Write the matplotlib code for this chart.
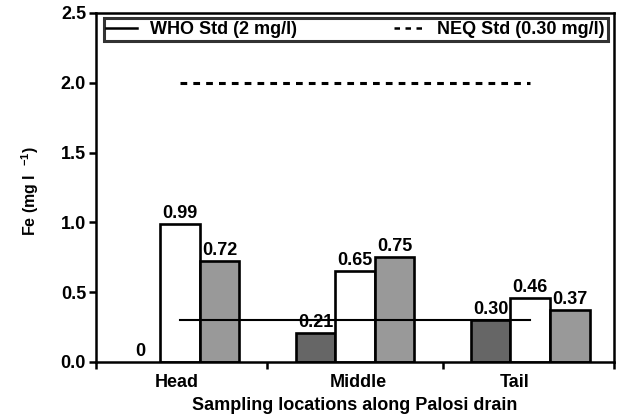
import matplotlib
matplotlib.use('Agg')
import matplotlib.pyplot as plt
from matplotlib.lines import Line2D

plt.rcParams['font.family'] = ['Liberation Sans', 'DejaVu Sans']
plt.rcParams['font.weight'] = 'bold'
plt.rcParams['mathtext.default'] = 'regular'

locations = ['Head', 'Middle', 'Tail']
series_a = [0.0, 0.21, 0.30]
series_b = [0.99, 0.65, 0.46]
series_c = [0.72, 0.75, 0.37]
value_labels_a = ['0', '0.21', '0.30']
value_labels_b = ['0.99', '0.65', '0.46']
value_labels_c = ['0.72', '0.75', '0.37']
solid_std = 0.30
dashed_std = 2.0
legend_labels = ['WHO Std (2 mg/l)', 'NEQ Std (0.30 mg/l)']

FS = 13

fig = plt.figure(figsize=(6.18, 4.17), dpi=100)
ax = fig.add_axes([0.155, 0.132, 0.839, 0.837])

x = list(range(len(locations)))
w = 0.226
bar_kw = dict(width=w, edgecolor='black', zorder=2)
ax.bar([i - w for i in x], series_a, color='#666666',
       linewidth=[1.9 if v > 0 else 0 for v in series_a], **bar_kw)
ax.bar(x, series_b, color='white', linewidth=1.9, **bar_kw)
ax.bar([i + w for i in x], series_c, color='#999999', linewidth=1.9, **bar_kw)

for vals, labs, off in [(series_a, value_labels_a, -w),
                        (series_b, value_labels_b, 0),
                        (series_c, value_labels_c, w)]:
    for i, (v, lab) in enumerate(zip(vals, labs)):
        ax.text(i + off, v + 0.015, lab, ha='center', va='bottom',
                fontsize=FS, fontweight='bold', zorder=4)

ax.plot([x[0], x[-1]], [solid_std, solid_std], color='black', lw=1.5, zorder=3)
ax.plot([x[0], x[-1]], [dashed_std, dashed_std], color='black', lw=2.2,
        linestyle=(0, (2.2, 2.0)), zorder=3)

ax.set_xlim(-0.48, 2.48)
ax.set_ylim(0, 2.5)
ax.set_yticks([0, 0.5, 1.0, 1.5, 2.0, 2.5])
ax.set_yticklabels(['0.0', '0.5', '1.0', '1.5', '2.0', '2.5'])
ax.set_xticks([-0.02, 1.02, 1.91])
ax.set_xticklabels(locations)
ax.set_xticks([-0.48, 0.5, 1.5, 2.48], minor=True)
ax.tick_params(axis='x', which='major', length=0, labelsize=FS, pad=9)
ax.tick_params(axis='x', which='minor', length=5, width=1.8, direction='out')
ax.tick_params(axis='y', length=5, width=1.8, direction='out', labelsize=FS, pad=2)
for s in ax.spines.values():
    s.set_linewidth(1.8)

ax.set_xlabel('Sampling locations along Palosi drain', fontsize=FS,
              fontweight='bold', labelpad=4)
ax.set_ylabel(r'Fe (mg l  $^{-1}$)', fontsize=11.5, fontweight='bold')
ax.yaxis.set_label_coords(-0.105, 0.49)

handles = [Line2D([], [], color='black', lw=1.8),
           Line2D([], [], color='black', lw=1.8, linestyle=(0, (2.2, 2.2)))]
leg = ax.legend(handles, legend_labels, ncol=2, mode='expand',
                loc='upper left', bbox_to_anchor=(0.015, 0.985, 0.972, 0.0),
                frameon=True, fancybox=False, edgecolor='black',
                fontsize=FS, handlelength=1.7, handletextpad=0.7,
                borderpad=0.15, borderaxespad=0.0)
leg.get_frame().set_linewidth(2.2)

fig.savefig('out.png', dpi=100)
